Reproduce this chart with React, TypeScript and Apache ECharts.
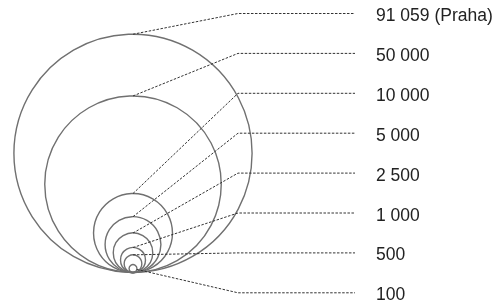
import { useEffect, useRef } from "react";
import * as echarts from "echarts";

// Town population classes (proportional circle legend)
const values = [91059, 50000, 10000, 5000, 2500, 1000, 500, 100];
const labels = ["91 059 (Praha)", "50 000", "10 000", "5 000", "2 500", "1 000", "500", "100"];

export default function App() {
  const ref = useRef<HTMLDivElement>(null);
  useEffect(() => {
    const chart = echarts.init(ref.current!, null, { renderer: "svg" });
    const KNEE_X = 238;
    const END_X = 355;
    const LABEL_X = 376;
    const ROW_TOP = 13.5;
    const ROW_GAP = 39.9;
    chart.setOption({
      animation: false,
      grid: { left: 0, top: 0, width: 266, height: 272.5 },
      xAxis: { type: "value", min: -337, max: 337, show: false },
      yAxis: { type: "value", min: 0, max: 690, show: false },
      series: [
        {
          type: "custom",
          clip: false,
          data: values.map((v, i) => [v, i]),
          renderItem: (params: any, api: any) => {
            const v = api.value(0) as number;
            const i = api.value(1) as number;
            const r = Math.sqrt(v);
            const c = api.coord([0, r]);
            const rp = api.size([r, r])[0];
            const rowY = ROW_TOP + ROW_GAP * i;
            const top = [c[0], c[1] - rp];
            let start = top;
            if (rowY > top[1] + 5) {
              const dx = KNEE_X - c[0];
              const dy = rowY - c[1];
              const d = Math.hypot(dx, dy);
              start = [c[0] + (dx / d) * rp, c[1] + (dy / d) * rp];
            }
            return {
              type: "group",
              children: [
                {
                  type: "circle",
                  shape: { cx: c[0], cy: c[1], r: rp },
                  style: { fill: "none", stroke: "#707070", lineWidth: 1.4 },
                },
                {
                  type: "polyline",
                  shape: { points: [start, [KNEE_X, rowY], [END_X, rowY]] },
                  style: { fill: "none", stroke: "#333", lineWidth: 1, lineDash: [2.5, 1.5] },
                },
                {
                  type: "text",
                  x: LABEL_X,
                  y: rowY + 1.5,
                  style: {
                    text: labels[i],
                    fontSize: 17.5,
                    fontFamily: '"Liberation Sans", Arial, sans-serif',
                    fill: "#222",
                    align: "left",
                    verticalAlign: "middle",
                  },
                },
              ],
            };
          },
        },
      ],
    });
    return () => chart.dispose();
  }, []);
  return <div ref={ref} style={{ position: "fixed", left: 0, top: 0, width: 500, height: 304 }} />;
}
